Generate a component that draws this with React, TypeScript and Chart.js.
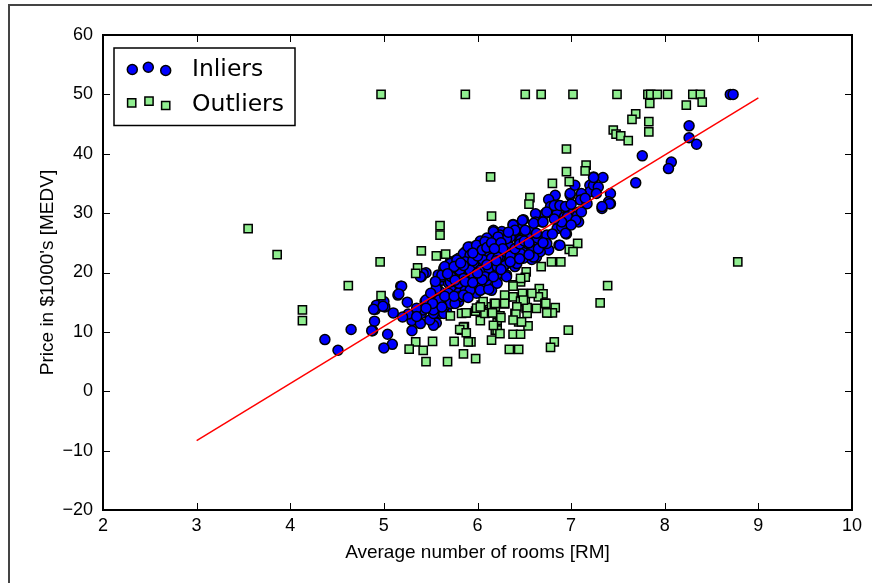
import React, { useEffect, useRef } from "react";
import { Chart, registerables } from "chart.js";

Chart.register(...registerables);

// ---- data ----
const inlierRM = [
  4.37, 4.51, 4.65, 4.88, 4.90, 4.91, 4.92, 5.01, 5.00, 5.15, 5.18, 5.04, 5.09, 5.00, 5.30, 5.30, 5.39, 5.26, 5.40, 5.42,
  5.46, 5.45, 5.40, 5.52, 5.56, 5.53, 5.57, 5.60, 5.64, 5.71, 5.71, 5.59, 5.64, 5.61, 5.67, 5.75, 5.77, 5.78,
  5.19, 5.16, 4.99, 4.89, 4.87, 5.35, 5.44, 5.48, 5.49, 5.53, 5.58, 5.62, 5.60, 5.56, 5.62, 5.58, 5.71, 5.69, 5.72,
  5.80, 5.87, 5.92, 5.99, 6.03, 6.12, 6.21, 6.19, 5.74, 5.65, 5.80, 5.64, 5.78, 5.88, 5.99, 6.08,
  6.22, 6.31, 6.15,
  7.34, 7.24, 7.20, 7.27, 7.42, 7.40, 7.33, 7.20, 7.11, 7.10, 6.99, 6.83, 6.76, 6.87, 6.78, 6.85, 6.99, 7.06, 7.08,
  6.97, 6.72, 6.62, 6.69, 6.62, 6.49, 6.38, 6.47, 6.58, 6.85, 6.95, 6.87, 6.76, 6.72, 6.63, 6.53, 6.44, 6.35, 6.26,
  6.17, 6.21, 6.31, 6.42, 6.53, 6.60, 6.63, 6.58, 6.49, 6.38, 6.29, 6.19, 6.40,
  5.45, 5.59, 5.56, 5.62, 5.71, 5.80, 5.87, 5.92, 5.99, 6.06, 6.12, 6.21, 6.24, 6.17, 6.38, 6.48, 6.51, 6.60, 6.70,
  6.63, 6.74, 6.74, 6.82, 6.93, 7.04, 7.11, 7.24, 7.29, 7.27, 7.42, 6.99, 6.88, 6.97, 7.08, 6.88, 6.74, 6.67, 6.60,
  6.58, 6.53, 6.46, 6.35, 6.31, 6.28, 6.22, 6.12, 6.03, 5.96, 5.90, 5.83, 5.74, 5.71, 5.80, 5.69, 5.81, 5.92, 6.03,
  6.12, 6.21, 6.31, 6.42, 6.46, 5.71, 5.76, 6.03, 6.10, 6.17, 6.08, 5.96, 5.88, 5.85, 5.99, 6.10, 6.24, 6.31, 6.40,
  5.53, 5.62,
  5.90, 5.99, 6.08, 6.22, 5.92, 6.03, 6.12, 6.21, 5.78, 5.87, 5.96, 6.06, 6.15, 6.22, 5.71, 5.81, 5.92, 6.03, 6.12,
  6.21, 5.62, 5.72, 5.85, 5.96, 6.08, 6.17, 5.42, 5.39,
  8.70, 8.73, 8.26, 8.26, 8.34, 7.76, 8.07, 8.04, 7.69, 7.24, 7.41, 7.33, 7.17, 7.04, 6.94, 6.96, 7.05, 6.90, 6.94,
  5.65, 5.75, 5.85, 5.95, 6.00, 6.05, 6.10, 6.15, 6.25, 6.30, 6.35, 6.40, 6.45, 6.50, 6.55, 6.33, 6.27, 6.18, 5.95,
  5.82, 5.68, 5.76, 5.87, 5.95, 6.05, 6.00, 6.10, 6.20, 6.25, 6.35, 6.45, 6.55, 6.65, 6.70, 6.80, 6.90, 7.00, 7.15,
  7.00, 6.82, 5.50, 5.55, 5.65, 5.75, 5.85, 5.90, 5.52, 5.45, 5.35, 5.20, 5.10, 5.25,
];
const inlierMEDV = [
  8.7, 6.9, 10.4, 10.2, 11.8, 13.8, 14.5, 14.2, 15.1, 16.2, 17.7, 9.6, 7.9, 7.3, 11.9, 10.2, 11.4, 13.0, 13.1, 13.7,
  15.35, 19.95, 19.3, 12.3, 11.5, 11.1, 17.3, 19.3, 20.7, 21.8, 20.1, 15.35, 14.2, 13.1, 13.4, 14.9, 22.1, 18.2,
  17.7, 16.4, 14.3, 13.8, 10.2, 14.0, 15.1, 15.6, 12.0, 13.1, 14.2, 15.2, 16.75, 17.9, 18.7, 19.6, 19.85, 18.2, 17.0,
  16.6, 17.0, 17.9, 16.5, 17.9, 19.3, 19.85, 18.2, 14.8, 14.3, 15.1, 13.1, 19.85, 19.6, 19.6, 17.3,
  19.6, 19.6, 17.0,
  36.0, 36.1, 34.7, 34.4, 33.3, 31.9, 30.8, 33.6, 33.3, 32.2, 33.0, 33.0, 32.3, 31.3, 31.1, 29.9, 29.4, 28.8, 30.2,
  30.8, 29.9, 29.9, 28.5, 28.5, 28.9, 28.1, 27.4, 27.1, 27.4, 26.5, 24.6, 23.8, 26.0, 25.7, 26.0, 25.6, 26.0, 26.9,
  27.1, 25.2, 24.3, 23.5, 23.8, 24.3, 22.6, 22.2, 22.4, 22.1, 21.2, 21.5, 21.0,
  15.35, 15.35, 17.3, 19.3, 21.5, 22.4, 23.5, 24.3, 24.05, 24.6, 24.9, 24.9, 26.3, 26.85, 28.0, 28.8, 27.1, 28.3, 28.5,
  26.6, 26.3, 30.2, 31.3, 29.4, 29.4, 30.2, 34.7, 34.4, 33.3, 31.6, 33.3, 31.3, 30.2, 28.5, 24.6, 24.9, 23.5, 22.6,
  24.05, 24.9, 25.45, 24.3, 22.6, 21.2, 19.85, 20.4, 21.5, 20.7, 19.3, 20.7, 20.1, 18.4, 18.2, 16.5, 15.9, 17.0, 17.0,
  17.2, 18.2, 19.3, 21.5, 23.2, 14.8, 14.8, 25.3, 25.8, 23.2, 22.6, 22.6, 22.1, 23.2, 19.3, 18.7, 22.6, 25.7, 27.1,
  13.7, 14.2,
  24.3, 24.6, 25.2, 26.0, 22.9, 23.2, 23.5, 24.05, 22.1, 21.8, 21.5, 22.1, 22.4, 22.6, 20.4, 20.4, 20.4, 20.4, 20.7,
  21.0, 19.6, 19.3, 19.0, 19.3, 19.3, 19.3, 19.8, 19.3,
  50.0, 50.0, 44.7, 42.7, 41.6, 39.65, 38.6, 37.5, 35.1, 36.0, 31.6, 31.1, 31.6, 34.7, 31.1, 29.4, 28.8, 27.7, 26.6,
  21.0, 21.0, 21.2, 22.0, 22.8, 23.8, 24.2, 25.0, 25.0, 23.5, 22.8, 24.0, 24.8, 25.3, 25.0, 26.8, 24.0, 24.0, 23.3,
  21.6, 19.8, 18.7, 18.5, 18.3, 18.8, 19.9, 21.3, 22.0, 20.5, 21.8, 22.3, 23.0, 24.0, 25.0, 26.5, 28.5, 31.5, 32.5,
  28.0, 29.0, 16.5, 18.5, 16.0, 16.0, 16.2, 15.8, 14.8, 14.0, 12.6, 12.5, 13.2, 15.0,
];

const outlierRM = [
  3.55, 3.86, 4.96, 4.62, 4.13, 4.13, 5.60, 5.60, 5.40, 5.56, 5.66, 5.36, 5.34, 4.97, 5.71, 5.34, 5.52, 5.75, 5.27,
  5.42, 5.45, 5.68,
  6.14, 6.15, 6.95, 7.16, 7.15, 6.95, 6.98, 6.80, 6.56, 6.55, 7.07, 6.98, 7.02, 6.89, 6.79, 6.68, 6.52,
  7.39, 7.31, 6.97, 6.82, 6.78, 6.44, 6.34, 6.15, 5.98, 5.85, 5.93, 5.90, 5.86, 5.83, 6.03, 6.21, 6.21, 6.38, 6.46,
  6.54, 5.87, 5.98, 6.11, 6.15, 6.18, 6.24, 6.29, 6.31, 6.38, 6.38, 6.40, 6.44,
  6.46, 6.48, 6.51, 6.52, 6.53, 6.63, 6.66, 6.70, 6.65, 6.72, 6.75, 6.83, 6.46, 6.51, 6.04, 5.99,
  5.83, 5.88, 6.08, 5.85, 5.81, 6.15, 6.19, 6.06, 6.03, 6.19, 5.88,
  6.46, 6.38, 6.29, 6.58, 6.73, 6.80, 6.74, 6.53, 6.49, 6.42, 6.29, 6.19, 6.16, 6.25, 6.41, 6.47, 6.38, 6.21,
  6.24, 6.17,
  4.97, 5.87, 6.51, 6.68, 7.02, 7.49, 7.82, 7.85, 7.92, 8.03, 8.30, 8.38, 7.84, 8.23, 8.40, 7.69, 7.65, 7.83, 7.83,
  7.45, 7.48, 7.53, 7.61, 8.78,
];
const outlierMEDV = [
  27.4, 23.0, 21.8, 17.8, 13.7, 11.9, 27.9, 26.3, 23.65, 22.8, 23.1, 20.8, 19.85, 16.1, 12.7, 8.3, 8.4, 8.4, 7.1,
  6.9, 5.0, 5.0,
  36.1, 29.5, 40.8, 38.1, 37.1, 37.0, 35.3, 35.0, 32.6, 31.5, 24.9, 23.9, 23.5, 21.8, 21.8, 21.0, 20.1,
  17.8, 14.9, 10.3, 8.3, 7.4, 7.05, 7.05, 8.6, 5.5, 6.3, 8.3, 8.3, 10.9, 10.3, 11.9, 11.5, 10.6, 9.6, 9.6,
  11.0, 13.2, 13.5, 13.4, 14.2, 14.8, 12.7, 14.7, 15.9, 17.9, 15.9, 13.1, 11.7,
  15.2, 16.5, 15.1, 13.95, 13.1, 13.95, 17.3, 16.4, 15.9, 14.8, 13.2, 14.1, 18.4, 19.2, 14.5, 14.0,
  13.1, 13.2, 13.1, 10.8, 10.4, 13.2, 14.2, 15.1, 14.2, 10.3, 9.85,
  19.0, 17.7, 16.2, 16.5, 14.8, 13.2, 13.2, 14.1, 15.35, 14.2, 14.8, 14.8, 13.2, 12.4, 13.0, 11.7, 12.0, 10.3,
  9.7, 11.1,
  50, 50, 50, 50, 50, 50, 50, 50, 50, 50, 50, 50, 48.5, 48.2, 48.7, 46.7, 45.8, 45.4, 43.7,
  44.0, 43.3, 43.0, 42.2, 21.8,
];

const lineRM = [3, 9];
const lineMEDV = [-8.3, 49.4];

const xTicks = [2, 3, 4, 5, 6, 7, 8, 9, 10];
const yTicks = [-20, -10, 0, 10, 20, 30, 40, 50, 60];
const legendLabels = ["Inliers", "Outliers"];
const xTitle = "Average number of rooms [RM]";
const yTitle = "Price in $1000's [MEDV]";

const INLIER_COLOR = "#0000ff";
const OUTLIER_COLOR = "#90ee90";
const AXIS_FONT = "'Liberation Sans', Arial, sans-serif";
const CIRCLE_R = 5;
const SQUARE_R = 5.8;

function drawCircle(ctx: CanvasRenderingContext2D, x: number, y: number) {
  ctx.beginPath();
  ctx.arc(x, y, CIRCLE_R, 0, Math.PI * 2);
  ctx.fillStyle = INLIER_COLOR;
  ctx.fill();
  ctx.lineWidth = 1.5;
  ctx.strokeStyle = "#000";
  ctx.stroke();
}
function drawSquare(ctx: CanvasRenderingContext2D, x: number, y: number) {
  const h = SQUARE_R * Math.SQRT1_2;
  ctx.beginPath();
  ctx.rect(x - h, y - h, 2 * h, 2 * h);
  ctx.fillStyle = OUTLIER_COLOR;
  ctx.fill();
  ctx.lineWidth = 1.5;
  ctx.strokeStyle = "#000";
  ctx.stroke();
}

const framePlugin = {
  id: "mplFrame",
  afterDraw(chart: any) {
    const { ctx, chartArea } = chart;
    const { left, right, top, bottom } = chartArea;
    const xs = chart.scales.x;
    const ys = chart.scales.y;
    ctx.save();
    // inward ticks on all four sides
    ctx.strokeStyle = "#000";
    ctx.lineWidth = 1;
    const tl = 7;
    ctx.beginPath();
    for (const v of xTicks) {
      const px = Math.round(xs.getPixelForValue(v)) + 0.5;
      ctx.moveTo(px, bottom);
      ctx.lineTo(px, bottom - tl);
      ctx.moveTo(px, top);
      ctx.lineTo(px, top + tl);
    }
    for (const v of yTicks) {
      const py = Math.round(ys.getPixelForValue(v)) + 0.5;
      ctx.moveTo(left, py);
      ctx.lineTo(left + tl, py);
      ctx.moveTo(right, py);
      ctx.lineTo(right - tl, py);
    }
    ctx.stroke();
    // axes box
    ctx.lineWidth = 2;
    ctx.strokeRect(left, top, right - left, bottom - top);

    // legend (matplotlib classic style, 3 markers per entry)
    const bx = left + 11;
    const by = top + 13;
    ctx.fillStyle = "#fff";
    ctx.fillRect(bx, by, 181, 77.5);
    ctx.lineWidth = 1.5;
    ctx.strokeStyle = "#000";
    ctx.strokeRect(bx, by, 181, 77.5);
    const inOffsets = [[18.3, 21.5], [34.3, 19.2], [51.7, 22.5]];
    const outOffsets = [[17.7, 54.8], [35, 53.2], [51.7, 57.5]];
    for (const [dx, dy] of inOffsets) drawCircle(ctx, bx + dx, by + dy);
    for (const [dx, dy] of outOffsets) drawSquare(ctx, bx + dx, by + dy);
    ctx.fillStyle = "#000";
    ctx.font = "23.5px 'DejaVu Sans', sans-serif";
    ctx.textAlign = "left";
    ctx.textBaseline = "alphabetic";
    ctx.fillText(legendLabels[0], bx + 78, by + 28.2);
    ctx.fillText(legendLabels[1], bx + 78, by + 63);
    ctx.restore();
  },
};

export default function App() {
  const ref = useRef<HTMLCanvasElement>(null);
  useEffect(() => {
    const canvas = ref.current;
    if (!canvas) return;
    const fmt = (v: number) => (v < 0 ? "\u2212" + Math.abs(v) : String(v));
    const chart = new Chart(canvas, {
      type: "scatter",
      data: {
        datasets: [
          {
            label: legendLabels[0],
            data: inlierRM.map((x, i) => ({ x, y: inlierMEDV[i] })),
            backgroundColor: INLIER_COLOR,
            borderColor: "#000",
            borderWidth: 1.5,
            pointRadius: CIRCLE_R,
            pointStyle: "circle",
            order: 2,
          },
          {
            label: legendLabels[1],
            data: outlierRM.map((x, i) => ({ x, y: outlierMEDV[i] })),
            backgroundColor: OUTLIER_COLOR,
            borderColor: "#000",
            borderWidth: 1.5,
            pointRadius: SQUARE_R,
            pointStyle: "rect",
            order: 1,
          },
          {
            type: "line",
            label: "fit",
            data: lineRM.map((x, i) => ({ x, y: lineMEDV[i] })),
            borderColor: "#ff0000",
            borderWidth: 1.5,
            pointRadius: 0,
            showLine: true,
            fill: false,
            order: 0,
          } as any,
        ],
      },
      options: {
        responsive: false,
        animation: false,
        events: [],
        layout: { padding: { top: 35, right: 20, left: 0, bottom: 0 } },
        plugins: { legend: { display: false }, tooltip: { enabled: false } },
        scales: {
          x: {
            type: "linear",
            min: 2,
            max: 10,
            afterFit: (s: any) => {
              s.height = 73;
            },
            afterBuildTicks: (s: any) => {
              s.ticks = xTicks.map((v) => ({ value: v }));
            },
            grid: { display: false, drawTicks: false },
            border: { display: false },
            ticks: {
              autoSkip: false,
              maxRotation: 0,
              padding: 5,
              color: "#000",
              font: { family: AXIS_FONT, size: 18 },
              callback: (v: any) => fmt(Number(v)),
            },
            title: {
              display: true,
              text: xTitle,
              color: "#000",
              font: { family: AXIS_FONT, size: 19 },
              padding: { top: 0, bottom: 18.6 },
            },
          },
          y: {
            type: "linear",
            min: -20,
            max: 60,
            afterFit: (s: any) => {
              s.width = 103;
            },
            afterBuildTicks: (s: any) => {
              s.ticks = yTicks.map((v) => ({ value: v }));
            },
            grid: { display: false, drawTicks: false },
            border: { display: false },
            ticks: {
              autoSkip: false,
              padding: 10,
              color: "#000",
              font: { family: AXIS_FONT, size: 18 },
              callback: (v: any) => fmt(Number(v)),
            },
            title: {
              display: true,
              text: yTitle,
              color: "#000",
              font: { family: AXIS_FONT, size: 19 },
              padding: { top: 36.6, bottom: 0 },
            },
          },
        },
      },
      plugins: [framePlugin],
    });
    return () => chart.destroy();
  }, []);

  return (
    <div style={{ position: "absolute", left: 0, top: 0, width: 872, height: 583, background: "#fff", overflow: "hidden" }}>
      <canvas ref={ref} width={872} height={583} style={{ position: "absolute", left: 0, top: 0, width: 872, height: 583 }} />
      <div style={{ position: "absolute", left: 8, top: 4, width: 864, height: 2, background: "#444" }} />
      <div style={{ position: "absolute", left: 8, top: 4, width: 2, height: 579, background: "#444" }} />
    </div>
  );
}
